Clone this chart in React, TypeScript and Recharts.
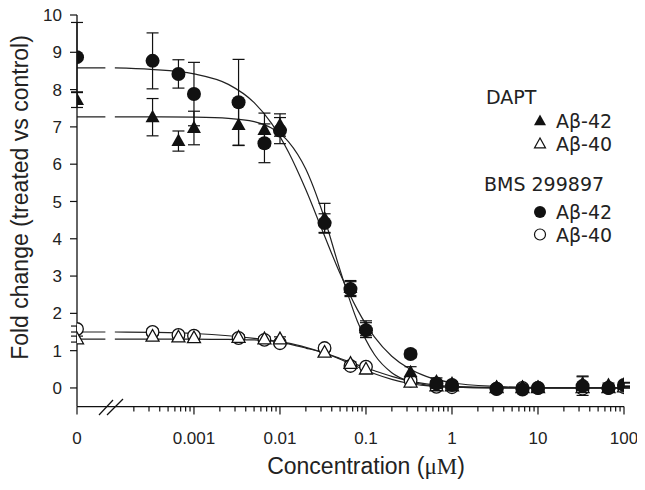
import { ComposedChart, XAxis, YAxis, Scatter, Line, ErrorBar } from "recharts";

// x axis is log10(concentration); the "0" column sits left of the axis break
const ZERO = -4.36;
const lx = (c: number) => (c === 0 ? ZERO : Math.log10(c));

const conc = [0, 0.00033, 0.00066, 0.001, 0.0033, 0.0066, 0.01, 0.033, 0.066, 0.1, 0.33, 0.66, 1, 3.3, 6.6, 10, 33, 66, 100];

const dapt42 = [7.72, 7.26, 6.62, 6.97, 7.05, 6.92, 7.05, 4.55, 2.68, 1.6, 0.42, 0.17, 0.12, 0.02, 0.02, 0.02, 0.12, 0.08, 0.1];
const dapt42Err = [0.2, 0.5, 0.27, 0.45, 0.55, 0.45, 0.3, 0.4, 0.2, 0.2, 0.15, 0.1, 0.05, 0.05, 0.05, 0.05, 0.2, 0.05, 0.05];
const dapt40 = [1.31, 1.38, 1.36, 1.34, 1.35, 1.31, 1.31, 0.95, 0.65, 0.5, 0.15, 0.05, 0.05, 0.0, 0.0, 0.0, 0.0, 0.0, 0.02];
const dapt40Err = [0.08, 0.08, 0.06, 0.08, 0.08, 0.07, 0.06, 0.08, 0.05, 0.05, 0.04, 0.03, 0.03, 0.02, 0.02, 0.02, 0.03, 0.02, 0.02];
const bms42 = [8.87, 8.77, 8.42, 7.88, 7.66, 6.56, 6.9, 4.42, 2.65, 1.55, 0.91, 0.12, 0.08, -0.03, -0.04, 0.0, 0.05, 0.0, 0.08];
const bms42Err = [0.93, 0.75, 0.38, 0.85, 1.15, 0.52, 0.35, 0.25, 0.2, 0.2, 0.1, 0.08, 0.05, 0.05, 0.05, 0.05, 0.25, 0.05, 0.05];
const bms40 = [1.58, 1.5, 1.42, 1.4, 1.34, 1.29, 1.2, 1.07, 0.59, 0.57, 0.2, 0.03, 0.02, -0.02, 0.0, 0.0, -0.02, 0.0, 0.02];
const bms40Err = [0.08, 0.08, 0.06, 0.06, 0.06, 0.06, 0.05, 0.08, 0.05, 0.05, 0.04, 0.03, 0.03, 0.02, 0.02, 0.02, 0.03, 0.02, 0.02];

// fitted curves (log10 x), null = axis break gap
const fitX = [-4.36, -4.03, -3.975, -3.92, -3.5, -3, -2.6, -2.3, -2.1, -1.9, -1.7, -1.5, -1.3, -1.1, -0.9, -0.7, -0.5, -0.3, 0, 0.5, 1, 1.5, 2];
const fitBms42 = [8.58, 8.58, null, 8.58, 8.54, 8.42, 8.14, 7.65, 7.1, 6.32, 5.32, 4.18, 3.06, 2.1, 1.36, 0.85, 0.52, 0.31, 0.14, 0.04, 0.01, 0, 0];
const fitDapt42 = [7.27, 7.27, null, 7.27, 7.27, 7.26, 7.23, 7.14, 6.97, 6.6, 5.87, 4.67, 3.15, 1.79, 0.89, 0.41, 0.18, 0.08, 0.02, 0, 0, 0, 0];
const fitBms40 = [1.5, 1.5, null, 1.5, 1.49, 1.46, 1.4, 1.33, 1.27, 1.18, 1.07, 0.95, 0.79, 0.62, 0.46, 0.31, 0.19, 0.11, 0.04, 0.01, 0, 0, 0];
const fitDapt40 = [1.31, 1.31, null, 1.31, 1.31, 1.31, 1.3, 1.29, 1.26, 1.2, 1.09, 0.95, 0.77, 0.57, 0.38, 0.23, 0.12, 0.06, 0.02, 0, 0, 0, 0];

const majorTicks = [ZERO, -3, -2, -1, 0, 1, 2];
const majorLabels = ["0", "0.001", "0.01", "0.1", "1", "10", "100"];
const minorTicks: number[] = [];
for (let n = -4; n <= 1; n++) for (let k = 2; k <= 9; k++) if (n + Math.log10(k) > -3.75) minorTicks.push(n + Math.log10(k));
const yTicks = [0, 1, 2, 3, 4, 5, 6, 7, 8, 9, 10];

const INK = "#111";
const AX_FONT = "'Liberation Sans', Arial, sans-serif";
const LEG_FONT = "'DejaVu Sans', sans-serif";

const pts = (ys: number[], errs: number[]) => conc.map((c, i) => ({ x: lx(c), y: ys[i], err: errs[i] }));
const fitData = fitX.map((x, i) => ({ x, bms42: fitBms42[i], dapt42: fitDapt42[i], bms40: fitBms40[i], dapt40: fitDapt40[i] }));

const triPts = (cx: number, cy: number, s = 7) => `${cx},${cy - s - 0.5} ${cx - s},${cy + s * 0.72} ${cx + s},${cy + s * 0.72}`;
const FilledCircle = (p: any) => <circle cx={p.cx} cy={p.cy} r={7} fill={INK} />;
const OpenCircle = (p: any) => <circle cx={p.cx} cy={p.cy} r={6.3} fill="#fff" stroke={INK} strokeWidth={1.3} />;
const FilledTri = (p: any) => <polygon points={triPts(p.cx, p.cy)} fill={INK} />;
const OpenTri = (p: any) => <polygon points={triPts(p.cx, p.cy, 6.5)} fill="#fff" stroke={INK} strokeWidth={1.3} />;

const XTick = (props: any) => {
  const { x, y, payload } = props;
  const idx = majorTicks.indexOf(payload.value);
  const major = idx >= 0;
  return (
    <g>
      <line x1={x} x2={x} y1={y} y2={y + (major ? 8 : 5)} stroke={INK} strokeWidth={1.2} />
      {major && (
        <text x={x} y={y + 37} textAnchor="middle" fontSize={17} fontFamily={AX_FONT} fill="#222">
          {majorLabels[idx]}
        </text>
      )}
    </g>
  );
};

export default function App() {
  const W = 645;
  const H = 490;
  return (
    <div style={{ position: "relative", width: W, height: H, margin: "-8px 0 0 -8px", background: "#fff" }}>
      <ComposedChart width={W} height={H} margin={{ top: 15, right: 21, bottom: 53.4, left: 8 }}>
        <XAxis
          type="number"
          dataKey="x"
          domain={[ZERO, 2]}
          allowDataOverflow
          ticks={[...majorTicks, ...minorTicks]}
          interval={0}
          tickSize={0}
          tickMargin={0}
          tickLine={false}
          tick={<XTick />}
          axisLine={{ stroke: INK, strokeWidth: 1.3 }}
          height={30}
        />
        <YAxis
          type="number"
          dataKey="y"
          domain={[-0.5, 10]}
          allowDataOverflow
          ticks={yTicks}
          interval={0}
          width={69}
          tickSize={7}
          tickMargin={8}
          tickLine={{ stroke: INK, strokeWidth: 1.2 }}
          axisLine={{ stroke: INK, strokeWidth: 1.3 }}
          tick={{ fontSize: 17, fontFamily: AX_FONT, fill: "#222" }}
        />
        <Line data={fitData} dataKey="bms42" type="monotone" stroke="#222" strokeWidth={1.2} dot={false} isAnimationActive={false} />
        <Line data={fitData} dataKey="dapt42" type="monotone" stroke="#222" strokeWidth={1.2} dot={false} isAnimationActive={false} />
        <Line data={fitData} dataKey="bms40" type="monotone" stroke="#222" strokeWidth={1.2} dot={false} isAnimationActive={false} />
        <Line data={fitData} dataKey="dapt40" type="monotone" stroke="#222" strokeWidth={1.2} dot={false} isAnimationActive={false} />
        <Scatter data={pts(bms40, bms40Err)} shape={OpenCircle} isAnimationActive={false}>
          <ErrorBar dataKey="err" direction="y" width={6} stroke={INK} strokeWidth={1.2} isAnimationActive={false} />
        </Scatter>
        <Scatter data={pts(dapt40, dapt40Err)} shape={OpenTri} isAnimationActive={false}>
          <ErrorBar dataKey="err" direction="y" width={6} stroke={INK} strokeWidth={1.2} isAnimationActive={false} />
        </Scatter>
        <Scatter data={pts(dapt42, dapt42Err)} shape={FilledTri} isAnimationActive={false}>
          <ErrorBar dataKey="err" direction="y" width={6} stroke={INK} strokeWidth={1.2} isAnimationActive={false} />
        </Scatter>
        <Scatter data={pts(bms42, bms42Err)} shape={FilledCircle} isAnimationActive={false}>
          <ErrorBar dataKey="err" direction="y" width={6} stroke={INK} strokeWidth={1.2} isAnimationActive={false} />
        </Scatter>
      </ComposedChart>
      <svg width={W} height={H} style={{ position: "absolute", left: 0, top: 0, pointerEvents: "none" }}>
        {/* axis break */}
        <line x1={99} y1={415} x2={113} y2={400} stroke={INK} strokeWidth={1.2} />
        <line x1={107} y1={415} x2={123} y2={399} stroke={INK} strokeWidth={1.2} />
        <text transform="translate(28,197.5) rotate(-90)" textAnchor="middle" fontSize={23} fontFamily={AX_FONT} fill="#222">
          Fold change (treated vs control)
        </text>
        <text x={366} y={474} textAnchor="middle" fontSize={23} fontFamily={AX_FONT} fill="#222">
          Concentration (<tspan fontFamily="'Liberation Serif', serif">μM</tspan>)
        </text>
        <g fontFamily={LEG_FONT} fontSize={19} fill="#222">
          <text x={486} y={104}>DAPT</text>
          <polygon points={triPts(540, 121, 6)} fill={INK} />
          <text x={556} y={128}>Aβ-42</text>
          <polygon points={triPts(540, 144, 5.5)} fill="#fff" stroke={INK} strokeWidth={1.2} />
          <text x={556} y={150.5}>Aβ-40</text>
          <text x={484} y={191}>BMS 299897</text>
          <circle cx={540} cy={212} r={6} fill={INK} />
          <text x={556} y={219}>Aβ-42</text>
          <circle cx={540} cy={234.5} r={5.5} fill="#fff" stroke={INK} strokeWidth={1.2} />
          <text x={556} y={241.5}>Aβ-40</text>
        </g>
      </svg>
    </div>
  );
}
